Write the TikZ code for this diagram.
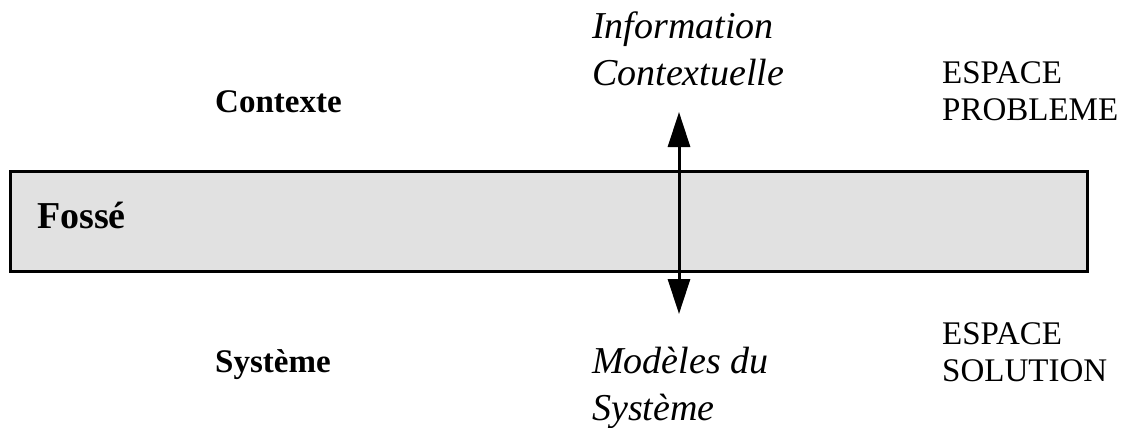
\documentclass[tikz,border=0pt]{standalone}
\usepackage{fontspec}
\setmainfont{Liberation Serif}
\usetikzlibrary{arrows.meta}
\definecolor{fossegris}{RGB}{225,225,225}

\begin{document}
\begin{tikzpicture}[x=1pt, y=-1pt, every node/.style={inner sep=0pt, anchor=base west}]
    \useasboundingbox (0,0) rectangle (1127,428);
    % Fosse
    \draw[line width=3pt, fill=fossegris] (10,171) rectangle (1087,271);
    \node[font=\fontsize{38}{38}\selectfont\bfseries] (fosse) at (37,228) {Fossé};
    
    % Contexte / Systeme
    \node[font=\fontsize{33}{33}\selectfont\bfseries] (contexte) at (215,112) {Contexte};
    \node[font=\fontsize{33}{33}\selectfont\bfseries] (systeme) at (215,372) {Système};
    
    % Information / Modeles (base = last line)
    \node[align=left, font=\fontsize{38}{47}\selectfont\itshape] (info) at (592,85) {Information\\Contextuelle};
    \node[align=left, font=\fontsize{38}{47}\selectfont\itshape] (modeles) at (592,420) {Modèles du\\Système};
    
    % Espaces
    \node[align=left, font=\fontsize{33}{37}\selectfont] (probleme) at (942,120) {ESPACE\\PROBLEME};
    \node[align=left, font=\fontsize{33}{37}\selectfont] (solution) at (942,381) {ESPACE\\SOLUTION};
    
    % Fleche
    \coordinate (haut) at (679,112);
    \coordinate (bas) at (679,314);
    \draw[line width=3pt, {Triangle[length=35pt, width=22pt]}-{Triangle[length=35pt, width=22pt]}] (haut) -- (bas);
\end{tikzpicture}
\end{document}
